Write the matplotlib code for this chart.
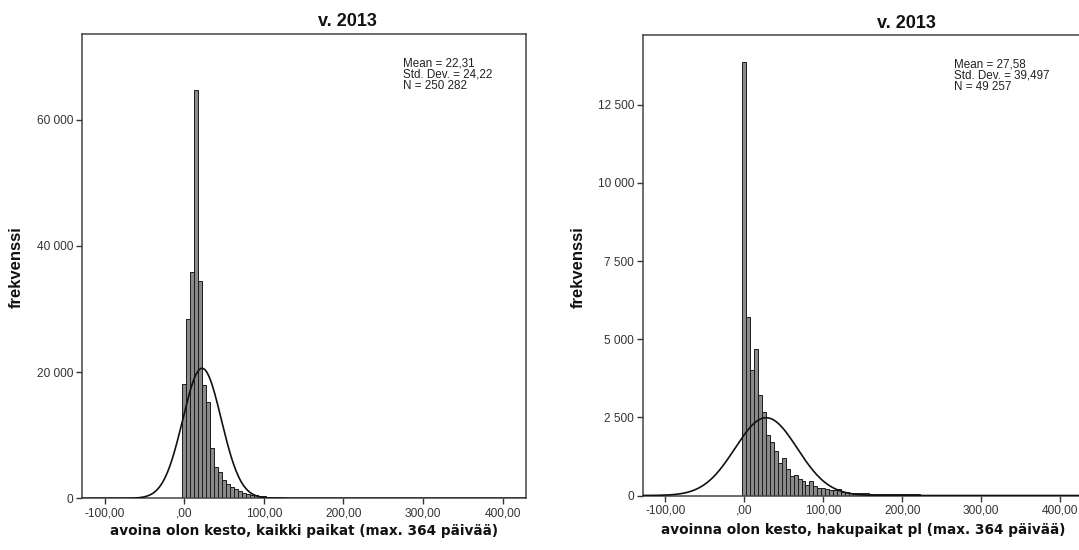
import numpy as np
import matplotlib
matplotlib.use("Agg")
import matplotlib.pyplot as plt

# ---- data -------------------------------------------------------------
bin_width = 5            # days per histogram bin, first bin centred on 0
x_ticks = [-100, 0, 100, 200, 300, 400]
x_tick_labels = ["-100,00", ",00", "100,00", "200,00", "300,00", "400,00"]

# all vacancies
left_counts = [
    18100, 28400, 35900, 64700, 34500, 18000, 15300, 7900, 5000, 4100,
    2900, 2300, 1800, 1400, 1100, 850, 700, 580, 460, 380,
    320, 270, 230, 200, 170, 140, 120, 100, 90, 80,
    70, 65, 60, 55, 50, 48, 45, 42, 40, 38,
    36, 34, 32, 30, 29, 28, 27, 26, 25, 24,
    23, 22, 21, 20, 20, 19, 18, 18, 17, 16,
    16, 15, 15, 14, 14, 13, 13, 12, 12, 11,
    11, 10, 10, 30,
]
left_mean, left_sd, left_n = 22.31, 24.22, 250282
left_yticks = [0, 20000, 40000, 60000]
left_ytick_labels = ["0", "20 000", "40 000", "60 000"]
left_xlabel = "avoina olon kesto, kaikki paikat (max. 364 päivää)"
left_stats = ["Mean = 22,31", "Std. Dev. = 24,22", "N = 250 282"]

# vacancies excluding search posts
right_counts = [
    13860, 5720, 4020, 4700, 3210, 2680, 1950, 1700, 1430, 1050,
    1200, 840, 630, 670, 525, 465, 325, 460, 305, 245,
    250, 200, 180, 180, 210, 106, 96, 86, 85, 74,
    70, 65, 60, 55, 50, 48, 45, 42, 40, 55,
    60, 45, 38, 35, 32, 30, 28, 27, 26, 25,
    24, 23, 22, 21, 20, 20, 19, 18, 18, 17,
    16, 16, 15, 15, 14, 14, 13, 13, 12, 12,
    11, 11, 10, 25,
]
right_mean, right_sd, right_n = 27.58, 39.497, 49257
right_yticks = [0, 2500, 5000, 7500, 10000, 12500]
right_ytick_labels = ["0", "2 500", "5 000", "7 500", "10 000", "12 500"]
right_xlabel = "avoinna olon kesto, hakupaikat pl (max. 364 päivää)"
right_stats = ["Mean = 27,58", "Std. Dev. = 39,497", "N = 49 257"]

title_text = "v. 2013"
ylabel_text = "frekvenssi"

# ---- figure -----------------------------------------------------------
W, H = 1079, 550
fig = plt.figure(figsize=(W / 100, H / 100), dpi=100)
fig.patch.set_facecolor("white")

SANS = "Liberation Sans"
BAR_FACE = "#8a8a8a"
BAR_EDGE = "#1c1c1c"
XLIM = (-128.5, 429.3)


def px_axes(x0, x1, ytop, ybot):
    return fig.add_axes([x0 / W, 1 - ybot / H, (x1 - x0) / W, (ybot - ytop) / H])


def draw_panel(ax, counts, mean, sd, n, ymax, yticks, ylabels):
    counts = np.asarray(counts, dtype=float)
    centers = np.arange(len(counts)) * bin_width
    ax.bar(centers, counts, width=bin_width, color=BAR_FACE,
           edgecolor=BAR_EDGE, linewidth=0.7, zorder=2)
    xs = np.linspace(XLIM[0], XLIM[1], 800)
    curve = n * bin_width / (sd * np.sqrt(2 * np.pi)) * np.exp(-0.5 * ((xs - mean) / sd) ** 2)
    ax.plot(xs, curve, color="#111111", linewidth=1.2, zorder=3)
    ax.set_xlim(*XLIM)
    ax.set_ylim(0, ymax)
    ax.set_xticks(x_ticks)
    ax.set_xticklabels(x_tick_labels, fontfamily=SANS, fontsize=8.6, color="#222222")
    ax.set_yticks(yticks)
    ax.set_yticklabels(ylabels, fontfamily=SANS, fontsize=8.6, color="#222222")
    ax.tick_params(direction="out", length=4, width=1, pad=2.5, colors="#333333",
                   top=False, right=False)
    for sp in ax.spines.values():
        sp.set_color("#444444")
        sp.set_linewidth(1.1)
    ax.set_facecolor("white")


ax_l = px_axes(82, 526, 34, 498.3)
draw_panel(ax_l, left_counts, left_mean, left_sd, left_n, 73600,
           left_yticks, left_ytick_labels)

ax_r = px_axes(643, 1083, 35, 495.5)
draw_panel(ax_r, right_counts, right_mean, right_sd, right_n, 14730,
           right_yticks, right_ytick_labels)

# titles
fig.text(347 / W, 1 - 22 / H, title_text, ha="center", va="center",
         fontfamily=SANS, fontweight="bold", fontsize=13, color="#111111")
fig.text(906 / W, 1 - 24 / H, title_text, ha="center", va="center",
         fontfamily=SANS, fontweight="bold", fontsize=13, color="#111111")

# axis labels
for xc, yc in [(16, 267), (578, 267)]:
    fig.text(xc / W, 1 - yc / H, ylabel_text, ha="center", va="center",
             rotation=90, fontfamily=SANS, fontweight="bold", fontsize=12, color="#111111")
fig.text(304 / W, 1 - 531 / H, left_xlabel, ha="center", va="center",
         fontfamily="DejaVu Sans", fontweight="bold", fontsize=9.8, color="#111111")
fig.text(863 / W, 1 - 530 / H, right_xlabel, ha="center", va="center",
         fontfamily="DejaVu Sans", fontweight="bold", fontsize=9.8, color="#111111")

# summary statistics
for i, line in enumerate(left_stats):
    fig.text(402.7 / W, 1 - (63.3 + 11.5 * i) / H, line, ha="left", va="center",
             fontfamily=SANS, fontsize=8.4, color="#222222")
for i, line in enumerate(right_stats):
    fig.text(954 / W, 1 - (64.3 + 11.5 * i) / H, line, ha="left", va="center",
             fontfamily=SANS, fontsize=8.4, color="#222222")

fig.savefig("out.png", dpi=100, facecolor="white")
